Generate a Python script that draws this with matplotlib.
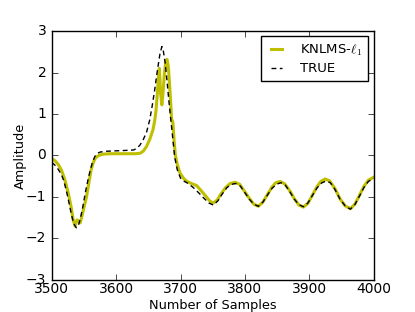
import matplotlib
matplotlib.use("Agg")
import matplotlib.pyplot as plt

plt.style.use('classic')
plt.rcParams['font.size'] = 10

knlms_x = [3500, 3505, 3510, 3515, 3520, 3525, 3530, 3533, 3536, 3539, 3541, 3544, 3547, 3550,
           3554, 3558, 3561, 3564, 3567, 3570, 3575, 3580, 3590, 3600, 3610, 3620, 3630, 3637,
           3642, 3647, 3652, 3657, 3660, 3662, 3664, 3666, 3667, 3668, 3669, 3671, 3673, 3675,
           3677, 3679, 3681, 3683, 3685, 3686, 3687, 3688, 3689, 3690, 3692, 3695, 3699, 3705,
           3710, 3717, 3725, 3732, 3740, 3746, 3751, 3757, 3763, 3770, 3777, 3785, 3792, 3800,
           3807, 3814, 3821, 3828, 3835, 3842, 3848, 3855, 3862, 3870, 3877, 3884, 3891, 3898,
           3905, 3912, 3918, 3925, 3932, 3940, 3948, 3956, 3964, 3971, 3978, 3985, 3992, 4000]
knlms_y = [-0.08, -0.13, -0.22, -0.36, -0.58, -0.88, -1.25, -1.55, -1.71, -1.56, -1.58, -1.63, -1.45, -1.25,
           -0.99, -0.62, -0.35, -0.19, -0.08, -0.03, 0.01, 0.03, 0.04, 0.04, 0.04, 0.04, 0.04, 0.05,
           0.10, 0.21, 0.38, 0.61, 0.85, 1.10, 1.50, 1.95, 2.10, 1.85, 1.50, 1.22, 1.55, 2.00,
           2.25, 2.32, 2.15, 1.70, 1.20, 0.90, 0.82, 0.81, 0.60, 0.35, 0.00, -0.22, -0.42, -0.56,
           -0.63, -0.68, -0.73, -0.85, -1.00, -1.11, -1.15, -1.08, -0.93, -0.78, -0.68, -0.65, -0.70, -0.88,
           -1.04, -1.18, -1.23, -1.13, -0.95, -0.77, -0.66, -0.63, -0.69, -0.86, -1.05, -1.20, -1.25, -1.16,
           -0.96, -0.76, -0.63, -0.57, -0.62, -0.80, -1.05, -1.22, -1.29, -1.18, -0.97, -0.75, -0.60, -0.53]

true_x = [3500, 3505, 3510, 3515, 3518, 3522, 3526, 3530, 3534, 3538, 3541, 3544, 3548, 3552,
          3556, 3559, 3563, 3567, 3571, 3575, 3585, 3600, 3615, 3627, 3632, 3637, 3642, 3647,
          3652, 3656, 3660, 3664, 3668, 3671, 3673, 3676, 3679, 3682, 3685, 3688, 3691, 3695,
          3700, 3705, 3712, 3720, 3728, 3736, 3744, 3751, 3758, 3765, 3772, 3779, 3786, 3793,
          3800, 3807, 3814, 3821, 3828, 3835, 3842, 3849, 3856, 3863, 3870, 3877, 3884, 3891,
          3898, 3905, 3912, 3919, 3926, 3933, 3940, 3948, 3956, 3964, 3971, 3978, 3985, 3992, 4000]
true_y = [-0.17, -0.24, -0.34, -0.47, -0.59, -0.82, -1.10, -1.40, -1.65, -1.75, -1.70, -1.55, -1.25, -0.90,
          -0.60, -0.40, -0.17, -0.02, 0.05, 0.08, 0.10, 0.11, 0.12, 0.13, 0.17, 0.25, 0.38, 0.55,
          0.85, 1.20, 1.60, 2.05, 2.45, 2.63, 2.55, 2.25, 1.80, 1.30, 0.85, 0.40, -0.05, -0.35,
          -0.55, -0.62, -0.68, -0.78, -0.90, -1.03, -1.15, -1.20, -1.10, -0.93, -0.78, -0.70, -0.68, -0.74,
          -0.90, -1.06, -1.18, -1.23, -1.13, -0.96, -0.80, -0.70, -0.66, -0.72, -0.88, -1.06, -1.19, -1.24,
          -1.15, -0.97, -0.79, -0.67, -0.62, -0.66, -0.82, -1.06, -1.22, -1.30, -1.19, -0.99, -0.78, -0.63, -0.56]

fig = plt.figure(figsize=(4.15, 3.12), dpi=100)
ax = fig.add_axes([0.125, 0.104, 0.775, 0.796])
ax.plot(knlms_x, knlms_y, color='y', linewidth=2.2, label=r'KNLMS-$\ell_1$')
ax.plot(true_x, true_y, color='k', linestyle='--', dashes=(3.5, 2.5), linewidth=1.0, label='TRUE')
ax.set_xlim(3500, 4000)
ax.set_ylim(-3, 3)
ax.set_xticks([3500, 3600, 3700, 3800, 3900, 4000])
ax.set_yticks([-3, -2, -1, 0, 1, 2, 3])
ax.tick_params(axis='x', pad=2)
ax.tick_params(axis='y', pad=4)
ax.set_xlabel('Number of Samples', labelpad=2, fontsize=9.3)
ax.set_ylabel('Amplitude', labelpad=-1, fontsize=9.3)
ax.legend(loc='upper right', fontsize=9.5, handlelength=1.5, handletextpad=1.05,
          labelspacing=0.35, borderaxespad=0.4, borderpad=0.45)
fig.savefig('out.png', dpi=100)
